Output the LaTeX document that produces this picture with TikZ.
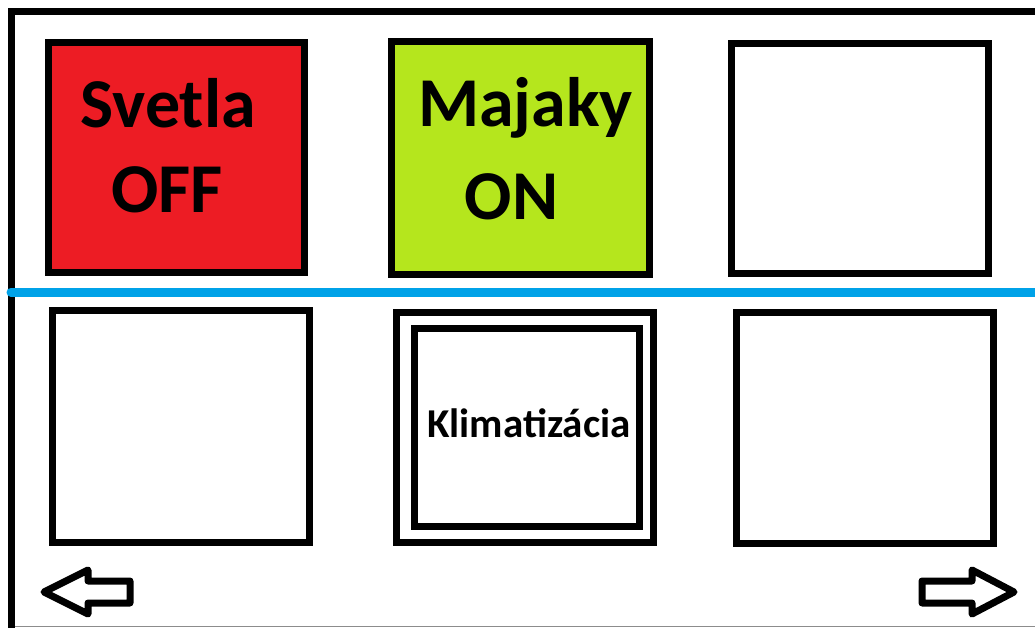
\documentclass[tikz,border=0pt]{standalone}
\usepackage{fontspec}
\setmainfont{Carlito}
\definecolor{paintred}{HTML}{ED1C24}
\definecolor{paintlime}{HTML}{B5E61D}
\definecolor{paintblue}{HTML}{00A2E8}
\begin{document}
\begin{tikzpicture}[x=1pt,y=-1pt,
  tile/.style={draw=black,line width=7pt,inner sep=0pt,minimum width=257pt,minimum height=231pt},
  big/.style={inner sep=0pt,anchor=base,font=\bfseries\fontsize{70}{70}\selectfont},
  small/.style={inner sep=0pt,anchor=base,font=\bfseries\fontsize{41}{41}\selectfont},
  arrowshape/.style={draw=black,line width=7pt,line join=round,fill=white}]
\useasboundingbox (0,0) rectangle (1035,628);
\fill[white] (0,0) rectangle (1035,628);
% frame
\draw[line width=7pt] (1035,11.5) -- (11.5,11.5) -- (11.5,628);
\draw[black!45,line width=1pt] (15,626) -- (1035,626);
% top row
\node[tile,fill=paintred,minimum width=256pt,minimum height=230pt] (svetla) at (176.5,157.5) {};
\node[tile,fill=paintlime,minimum width=258pt,minimum height=233pt] (majaky) at (520.5,158) {};
\node[tile,fill=white,minimum height=230pt] (topright) at (860,158.5) {};
\node[big] (t1) at (168,128) {Svetla};
\node[big] (t2) at (167,213) {OFF};
\node[big] (t3) at (525.5,127) {Majaky};
\node[big] (t4) at (511.5,220) {ON};
% divider
\draw[paintblue,line width=9pt,line cap=round] (11,292) -- (1040,292);
% bottom row
\node[tile,fill=white,minimum height=232pt] (botleft) at (181,426.5) {};
\node[tile,fill=white,minimum height=230pt] (klimaout) at (525,427.5) {};
\node[tile,fill=white,minimum width=225pt,minimum height=198pt] (klimain) at (527,427.5) {};
\node[small] (t5) at (529,437) {Klimatizácia};
\node[tile,fill=white] (botright) at (865,428) {};
% navigation arrows
\draw[arrowshape] (44,592) -- (88,570) -- (88,581) -- (130,581) -- (130,603) -- (88,603) -- (88,614) -- cycle;
\draw[arrowshape] (1014,592) -- (972,570) -- (972,581) -- (922,581) -- (922,603) -- (972,603) -- (972,614) -- cycle;
\end{tikzpicture}
\end{document}
